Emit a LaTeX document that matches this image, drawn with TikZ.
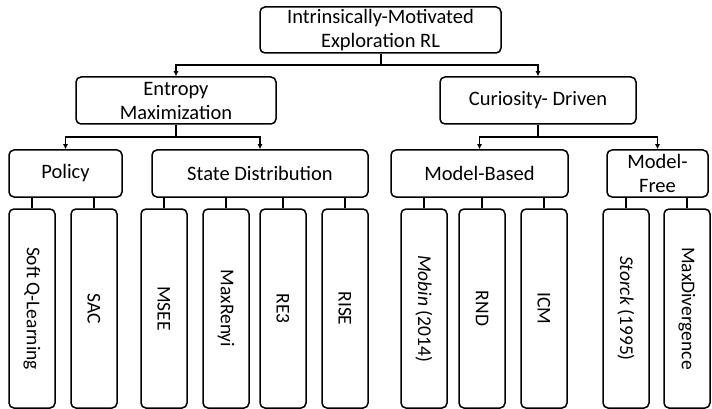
\documentclass[tikz,border=0pt]{standalone}
\usepackage{fontspec}
\setmainfont{Carlito}
\usetikzlibrary{arrows.meta}
\tikzset{
  box/.style={draw, line width=1.5pt, rounded corners=5pt, align=center, inner sep=0pt,
    font=\fontsize{20.5}{24}\selectfont},
  leaf/.style={draw, line width=1.5pt, rounded corners=5pt, inner sep=0pt,
    minimum width=46pt, minimum height=199pt, font=\fontsize{19.5}{23}\selectfont},
  arr/.style={line width=1.3pt, -{Latex[length=5pt,width=5pt]}},
  ln/.style={line width=1.3pt}
}
\begin{document}
\begin{tikzpicture}[x=1pt,y=-1pt]
\useasboundingbox (0,0) rectangle (712,409);
% level 0
\node[box, minimum width=241pt, minimum height=46pt] (root) at (380.5,30) {Intrinsically-Motivated\\Exploration RL};
% level 1
\node[box, minimum width=200pt, minimum height=47pt] (ent) at (176,100.5) {Entropy\\Maximization};
\node[box, minimum width=196pt, minimum height=47pt] (cur) at (538,100.5) {Curiosity- Driven};
% level 2
\node[box, minimum width=113pt, minimum height=47pt] (pol) at (65.5,173.5) {Policy};
\node[box, minimum width=216pt, minimum height=47pt] (sd) at (260,173.5) {State Distribution};
\node[box, minimum width=177pt, minimum height=47pt] (mb) at (479.5,173.5) {Model-Based};
\node[box, minimum width=101pt, minimum height=47pt] (mf) at (657.5,173.5) {Model-\\Free};
% leaves
\node[leaf] (sq) at (32,308.5) {\rotatebox[origin=c]{-90}{Soft Q-Learning}};
\node[leaf] (sac) at (94,308.5) {\rotatebox[origin=c]{-90}{SAC}};
\node[leaf] (msee) at (164,308.5) {\rotatebox[origin=c]{-90}{MSEE}};
\node[leaf] (mr) at (226,308.5) {\rotatebox[origin=c]{-90}{MaxRenyi}};
\node[leaf] (re3) at (283,308.5) {\rotatebox[origin=c]{-90}{RE3}};
\node[leaf] (rise) at (345,308.5) {\rotatebox[origin=c]{-90}{RISE}};
\node[leaf] (mob) at (424,308.5) {\rotatebox[origin=c]{-90}{\textit{Mobin} (2014)}};
\node[leaf] (rnd) at (482,308.5) {\rotatebox[origin=c]{-90}{RND}};
\node[leaf] (icm) at (544,308.5) {\rotatebox[origin=c]{-90}{ICM}};
\node[leaf] (sto) at (626,308.5) {\rotatebox[origin=c]{-90}{\textit{Storck} (1995)}};
\node[leaf] (mxd) at (687,308.5) {\rotatebox[origin=c]{-90}{MaxDivergence}};
% connectors level 0 -> 1
\coordinate (j0) at (381,65);
\draw[ln] (root.south -| j0) -- (j0);
\draw[arr] (j0) -| (ent.north);
\draw[arr] (j0) -| (cur.north);
% level 1 -> 2
\coordinate (j1) at (176,137);
\draw[ln] (ent.south) -- (j1);
\draw[arr] (j1) -| (pol.north);
\draw[arr] (j1) -| (sd.north);
\coordinate (j2) at (538,137);
\draw[ln] (cur.south) -- (j2);
\draw[arr] (j2) -| (mb.north);
\draw[arr] (j2) -| (mf.north);
% level 2 -> leaves
\foreach \l/\p in {sq/pol, sac/pol, msee/sd, mr/sd, re3/sd, rise/sd, mob/mb, rnd/mb, icm/mb, sto/mf, mxd/mf}
  \draw[ln] (\l.north) -- (\l.north |- \p.south);
\end{tikzpicture}
\end{document}
